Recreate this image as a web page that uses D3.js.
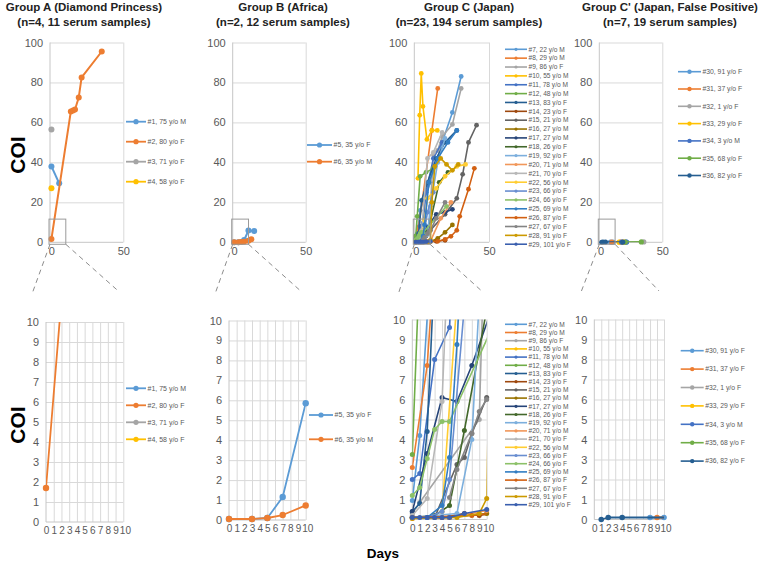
<!DOCTYPE html>
<html><head><meta charset="utf-8">
<script src="https://cdn.jsdelivr.net/npm/d3@7"></script>
<style>body{margin:0;background:#fff}svg{display:block}</style>
</head><body>
<svg id="c" width="765" height="571"></svg>
<script>
// ---------------- DATA ----------------
const groupTitles = ["Group A (Diamond Princess)", "Group B (Africa)", "Group C (Japan)", "Group C' (Japan, False Positive)"];
const groupSubtitles = ["(n=4, 11  serum samples)", "(n=2, 12 serum samples)", "(n=23, 194 serum samples)", "(n=7, 19 serum samples)"];
const topYTicks = [0, 20, 40, 60, 80, 100];
const topXTicks = [0, 50];
const zoomYTicks = [0, 1, 2, 3, 4, 5, 6, 7, 8, 9, 10];
const zoomXTicks = [0, 1, 2, 3, 4, 5, 6, 7, 8, 9, 10];
const yAxisTitle = "COI";
const xAxisTitle = "Days";

const groupA_labels = ["#1, 75 y/o M", "#2, 80 y/o F", "#3, 71 y/o F", "#4, 58 y/o F"];
const groupA_days = [[0, 5.4], [0, 13.5, 15, 16.4, 19, 21, 35], [0], [0]];
const groupA_coi  = [[38, 29.5], [1.7, 65.5, 66, 66.5, 72.5, 82.5, 95.5], [56.5], [27]];

const groupB_labels = ["#5, 35 y/o F", "#6, 35 y/o M"];
const groupB_days = [[0, 3, 5, 7, 10, 14], [0, 3, 5, 7, 10, 12]];
const groupB_coi  = [[0.05, 0.05, 0.1, 1.15, 5.85, 5.6], [0.05, 0.05, 0.1, 0.25, 0.73, 1.5]];

const groupC_labels = ["#7, 22 y/o M", "#8, 29 y/o M", "#9, 86 y/o F", "#10, 55 y/o M", "#11, 78 y/o M",
  "#12, 48 y/o M", "#13, 83 y/o F", "#14, 23 y/o F", "#15, 21 y/o M", "#16, 27 y/o M", "#17, 27 y/o M",
  "#18, 26 y/o F", "#19, 92 y/o F", "#20, 71 y/o M", "#21, 70 y/o F", "#22, 56 y/o M", "#23, 66 y/o F",
  "#24, 66 y/o F", "#25, 69 y/o M", "#26, 87 y/o F", "#27, 67 y/o F", "#28, 91 y/o F", "#29, 101 y/o F"];
const groupC_days = [
  [0, 1, 3, 10, 18, 25, 31],
  [0, 2, 11, 15],
  [0, 1, 9, 12, 15, 18, 25, 31],
  [1.5, 2.7, 3.75, 4.9, 7.6, 11, 14.7],
  [0, 1, 3, 5, 7, 12, 18],
  [0, 1, 3, 7, 12],
  [0, 1, 2, 4, 8, 14, 20, 28],
  [0, 4, 7, 9, 14, 20],
  [3, 6, 7, 8, 10, 20, 28, 32, 36, 41.5],
  [0, 5, 10, 15, 20, 25],
  [0, 2, 4, 6, 8, 14, 20, 25],
  [0, 3, 5, 7, 10, 16, 22],
  [0, 6, 8, 10, 15, 20],
  [0, 5, 10, 17, 24],
  [0, 2, 4, 8, 12, 18],
  [4, 6, 8, 14, 20, 28, 34],
  [0, 2, 4, 5, 8, 12],
  [0, 1, 2, 3, 4, 5, 21],
  [0, 2, 4, 5, 6, 9, 15, 22, 28],
  [0, 8, 15, 20, 24, 28, 30, 36, 40],
  [5, 6, 8, 9, 10, 14, 20],
  [0, 6, 9, 10, 11, 13, 17, 21, 25, 29],
  [0, 1, 2, 3, 4, 5, 7, 10]
];
const groupC_coi = [
  [0.95, 4.2, 16, 30, 50, 65, 83],
  [2.6, 7.7, 56, 77],
  [0.3, 0.85, 5.0, 44, 46, 53, 59, 77],
  [32, 63.6, 84.5, 68, 51.5, 56, 56],
  [2.0, 2.3, 8, 9.6, 25, 42, 50],
  [3.25, 13, 33, 35, 37],
  [0.4, 0.8, 4.4, 21, 30, 42, 50, 56],
  [0.1, 0.1, 0.3, 0.2, 0.5, 1],
  [0.1, 2.75, 3.1, 4.3, 6.1, 14, 22, 34, 50, 58.6],
  [0.1, 0.1, 0.3, 2, 5, 8.7],
  [0.4, 3.3, 6.1, 5.9, 7.7, 14, 15, 16.5],
  [0.1, 0.2, 0.7, 4.45, 10.5, 30, 35],
  [0.1, 0.3, 4.0, 18, 40, 52],
  [0.05, 0.1, 0.45, 12, 20],
  [0.2, 1.05, 5.9, 42, 45, 55],
  [0.4, 11, 22, 27, 33, 38, 39],
  [0.1, 0.1, 0.4, 2, 15, 25],
  [1.2, 1.6, 3.05, 4.5, 4.9, 4.9, 18],
  [0.1, 0.1, 0.7, 3.1, 8.75, 30, 42, 50, 56],
  [0.1, 0.2, 0.5, 1.5, 3, 6, 13, 26.6, 37],
  [1.1, 2.5, 4.3, 5.4, 6.0, 12, 20],
  [0.05, 0.1, 0.3, 1.05, 20, 38, 42, 39, 36, 39],
  [0.1, 0.1, 0.1, 0.1, 0.1, 0.1, 0.3, 0.5]
];

const groupD_labels = ["#30, 91 y/o F", "#31, 37 y/o F", "#32, 1 y/o F", "#33, 29 y/o F", "#34, 3 y/o M", "#35, 68 y/o F", "#36, 82 y/o F"];
const groupD_days = [[8, 10, 21], [9, 16, 18], [20, 35], [15, 19], [17, 21], [20, 33], [1, 2, 4, 18]];
const groupD_coi  = [[0.1, 0.1, 0.15], [0.1, 0.1, 0.15], [0.1, 0.2], [0.05, 0.05], [0.1, 0.1], [0.1, 0.2], [0, 0.1, 0.1, 0.1]];

// ---------------- STYLE / LAYOUT ----------------
const palette = ["#5B9BD5", "#ED7D31", "#A5A5A5", "#FFC000", "#4472C4", "#70AD47",
  "#255E91", "#9E480E", "#636363", "#997300", "#264478", "#43682B",
  "#7CAFDD", "#F1975A", "#B7B7B7", "#FFCD33", "#698ED0", "#8CC168",
  "#327DC2", "#D26012", "#848484", "#CC9A00", "#3A5FAE"];
const FONT = "'Liberation Sans', Arial, Helvetica, sans-serif";
const TXT = "#595959", GRID = "#d9d9d9", AXIS = "#c6c6c6";

const groups = [
  {labels: groupA_labels, days: groupA_days, coi: groupA_coi},
  {labels: groupB_labels, days: groupB_days, coi: groupB_coi},
  {labels: groupC_labels, days: groupC_days, coi: groupC_coi},
  {labels: groupD_labels, days: groupD_days, coi: groupD_coi}
];
const titleX = [84, 283, 469, 670];
const topL = [
  {l: 50, r: 123.3, t: 42.5, b: 242.3, rad: 3, lw: 2},
  {l: 232.7, r: 305.7, t: 42.5, b: 242.3, rad: 3, lw: 2},
  {l: 414.3, r: 489, t: 42.5, b: 242.3, rad: 2.4, lw: 1.6},
  {l: 599.3, r: 662.3, t: 42.5, b: 242.3, rad: 2.6, lw: 1.8}
];
const botL = [
  {l: 46, r: 123.3, t: 322, b: 522, rad: 3.2, lw: 1.8},
  {l: 229, r: 305.7, t: 320.5, b: 520, rad: 3.2, lw: 1.8},
  {l: 412.3, r: 486.7, t: 319.5, b: 519.5, rad: 2.5, lw: 1.6},
  {l: 594.3, r: 664, t: 319.5, b: 519.5, rad: 2.8, lw: 1.8}
];
const topLeg = [
  {x: 126, y0: 121.7, dy: 20, len: 20, fs: 7, mr: 2.6, lw: 1.8},
  {x: 307, y0: 145, dy: 16.7, len: 25, fs: 7, mr: 2.6, lw: 1.8},
  {x: 505, y0: 49.3, dy: 8.86, len: 22, fs: 6.6, mr: 1.6, lw: 1.6},
  {x: 678, y0: 71.7, dy: 17.3, len: 23, fs: 6.8, mr: 2.2, lw: 1.6}
];
const botLeg = [
  {x: 126, y0: 388.3, dy: 17, len: 20, fs: 7, mr: 2.6, lw: 1.8},
  {x: 309, y0: 415, dy: 24.3, len: 24, fs: 7, mr: 2.6, lw: 1.8},
  {x: 505, y0: 324.3, dy: 8.2, len: 22, fs: 6.6, mr: 1.6, lw: 1.6},
  {x: 680.7, y0: 350.7, dy: 18.4, len: 23, fs: 6.8, mr: 2.2, lw: 1.6}
];

const svg = d3.select("#c");
const defs = svg.append("defs");

function drawChart(L, x, y, xTicks, yTicks, vGrid, grp, clipId, filterVisible, xFont) {
  const g = svg.append("g");
  defs.append("clipPath").attr("id", clipId).append("rect")
    .attr("x", L.l).attr("y", L.t).attr("width", L.r - L.l).attr("height", L.b - L.t);
  const gy = g.append("g").attr("transform", `translate(${L.l},0)`)
    .call(d3.axisLeft(y).tickValues(yTicks.filter(v => v !== 0)).tickSize(-(L.r - L.l)).tickFormat(""));
  gy.select(".domain").remove();
  gy.selectAll("line").attr("stroke", GRID).attr("stroke-width", 1);
  const gx = g.append("g").attr("transform", `translate(0,${L.t})`)
    .call(d3.axisTop(x).tickValues(vGrid).tickSize(-(L.b - L.t)).tickFormat(""));
  gx.select(".domain").remove();
  gx.selectAll("line").attr("stroke", GRID).attr("stroke-width", 1);
  g.append("line").attr("x1", L.l).attr("x2", L.l).attr("y1", L.t).attr("y2", L.b).attr("stroke", AXIS);
  g.append("line").attr("x1", L.l).attr("x2", L.r).attr("y1", L.b).attr("y2", L.b).attr("stroke", AXIS);
  const ay = g.append("g").attr("transform", `translate(${L.l},0)`)
    .call(d3.axisLeft(y).tickValues(yTicks).tickSize(0).tickPadding(7).tickFormat(d3.format("d")));
  ay.select(".domain").remove();
  ay.selectAll("text").attr("font-family", FONT).attr("font-size", 11).attr("fill", TXT);
  const ax = g.append("g").attr("transform", `translate(0,${L.b})`)
    .call(d3.axisBottom(x).tickValues(xTicks).tickSize(0).tickPadding(5).tickFormat(d3.format("d")));
  ax.select(".domain").remove();
  ax.selectAll("text").attr("font-family", FONT).attr("font-size", xFont).attr("fill", TXT)
    .attr("dx", d => (xTicks.length > 2 && d === 10) ? 1.6 : 0);
  const line = d3.line().x(d => x(d[0])).y(d => y(d[1]));
  const dg = g.append("g");
  grp.labels.forEach((lab, i) => {
    const pts = grp.days[i].map((d, k) => [d, grp.coi[i][k]]);
    const col = palette[i];
    dg.append("path").datum(pts).attr("d", line).attr("fill", "none")
      .attr("stroke", col).attr("stroke-width", L.lw).attr("stroke-linejoin", "round")
      .attr("clip-path", `url(#${clipId})`);
    dg.selectAll(null).data(pts.filter(filterVisible)).enter().append("circle")
      .attr("cx", d => x(d[0])).attr("cy", d => y(d[1])).attr("r", L.rad).attr("fill", col);
  });
}

function drawLegend(lg, labels) {
  const g = svg.append("g");
  labels.forEach((lab, i) => {
    const yy = lg.y0 + i * lg.dy;
    g.append("line").attr("x1", lg.x).attr("x2", lg.x + lg.len).attr("y1", yy).attr("y2", yy)
      .attr("stroke", palette[i]).attr("stroke-width", lg.lw);
    g.append("circle").attr("cx", lg.x + lg.len / 2).attr("cy", yy).attr("r", lg.mr).attr("fill", palette[i]);
    g.append("text").attr("x", lg.x + lg.len + 1.5).attr("y", yy).attr("dy", "0.35em")
      .attr("font-family", FONT).attr("font-size", lg.fs).attr("fill", TXT).text(lab);
  });
}

groups.forEach((grp, gi) => {
  svg.append("text").attr("x", titleX[gi]).attr("y", 10.5).attr("text-anchor", "middle")
    .attr("font-family", FONT).attr("font-weight", "bold").attr("font-size", 11.5).attr("fill", "#222").text(groupTitles[gi]);
  svg.append("text").attr("x", titleX[gi]).attr("y", 26).attr("text-anchor", "middle")
    .attr("font-family", FONT).attr("font-weight", "bold").attr("font-size", 11.5).attr("fill", "#222").text(groupSubtitles[gi]);

  const T = topL[gi];
  const xt = d3.scaleLinear().domain([-1, 50]).range([T.l, T.r]);
  const yt = d3.scaleLinear().domain([0, 100]).range([T.b, T.t]);
  drawChart(T, xt, yt, topXTicks, topYTicks, [50], grp, "ct" + gi, d => true, 11);
  drawLegend(topLeg[gi], grp.labels);

  const B = botL[gi];
  const xb = d3.scaleLinear().domain([0, 10]).range([B.l, B.r]);
  const yb = d3.scaleLinear().domain([0, 10]).range([B.b, B.t]);
  drawChart(B, xb, yb, zoomXTicks, zoomYTicks, zoomXTicks.slice(1), grp, "cb" + gi,
    d => d[0] >= 0 && d[0] <= 10 && d[1] <= 10, 10);
  drawLegend(botLeg[gi], grp.labels);

  const bx0 = T.l - 1, bx1 = T.l + 15.8, by0 = yt(11.6), by1 = T.b + 2;
  svg.append("rect").attr("x", bx0).attr("y", by0).attr("width", bx1 - bx0).attr("height", by1 - by0)
    .attr("fill", "none").attr("stroke", "#9a9a9a").attr("stroke-width", 1);
  svg.append("line").attr("x1", bx0 + 1).attr("y1", by1).attr("x2", B.l - 14).attr("y2", 294)
    .attr("stroke", "#8c8c8c").attr("stroke-dasharray", "5,4");
  svg.append("line").attr("x1", bx1).attr("y1", by1).attr("x2", B.r - 5).attr("y2", 291)
    .attr("stroke", "#8c8c8c").attr("stroke-dasharray", "5,4");
});

[155, 425].forEach(cy => {
  svg.append("text").attr("transform", `translate(25,${cy}) rotate(-90)`).attr("text-anchor", "middle")
    .attr("font-family", FONT).attr("font-weight", "bold").attr("font-size", 21).attr("fill", "#000").text(yAxisTitle);
});
svg.append("text").attr("x", 383).attr("y", 558).attr("text-anchor", "middle")
  .attr("font-family", FONT).attr("font-weight", "bold").attr("font-size", 13.5).attr("fill", "#000").text(xAxisTitle);
</script>
</body></html>
